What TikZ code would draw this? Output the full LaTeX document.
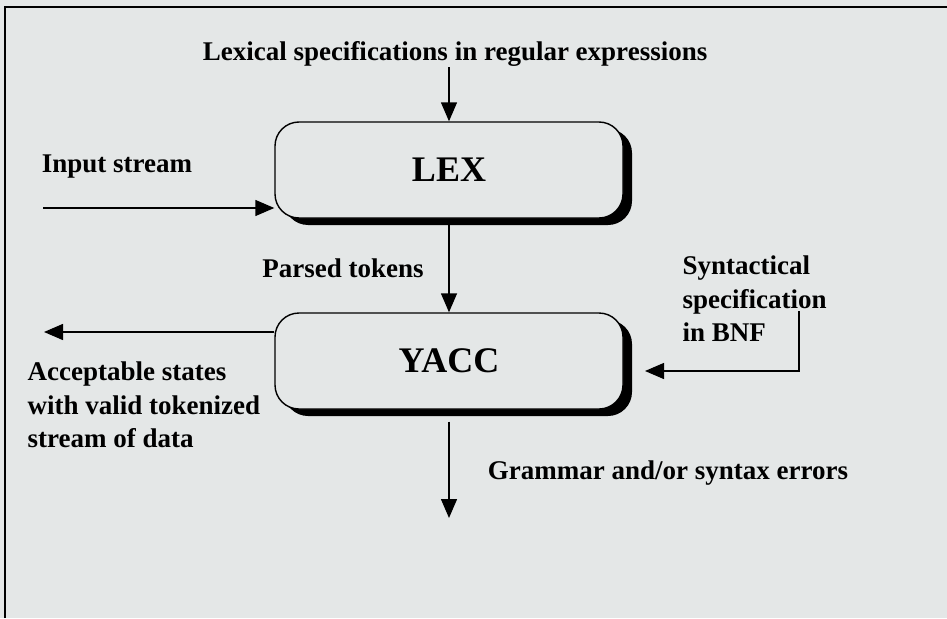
\documentclass[tikz,border=0pt]{standalone}
\usepackage{fontspec}
\setmainfont{Liberation Serif}
\usetikzlibrary{arrows.meta}
\usetikzlibrary{shadows}
\definecolor{paper}{RGB}{228,231,231}

\begin{document}
\begin{tikzpicture}[x=1pt,y=-1pt,
    lbl/.style={font=\bfseries\fontsize{27}{33.5}\selectfont, inner sep=0pt},
    stage/.style={draw, line width=1.4pt, rounded corners=24pt, fill=paper,
      minimum width=348pt, minimum height=96pt,
      font=\bfseries\fontsize{36}{40}\selectfont,
      drop shadow={shadow xshift=9pt, shadow yshift=-7pt, fill=black, opacity=1}},
    >={Triangle[length=19pt,width=16pt]}, line width=1.4pt]
    \fill[paper] (0,0) rectangle (947,618);
    \useasboundingbox (0,0) rectangle (947,618);
    \draw[line width=2pt] (5,618) -- (5,7) -- (947,7);

    \node[stage] (lex) at (449,170) {LEX};
    \node[stage] (yacc) at (449,361) {YACC};

    \node[lbl] (lexspec) at (455,54) {Lexical specifications in regular expressions};
    \node[lbl] (input) at (117,167) {Input stream};
    \node[lbl] (parsed) at (343,268) {Parsed tokens};
    \node[lbl, align=left, anchor=west] (accept) at (27,405) {Acceptable states\\ with valid tokenized\\ stream of data};
    \node[lbl, align=left, anchor=west] (synspec) at (682,299) {Syntactical\\specification\\in BNF};
    \node[lbl] (errors) at (668,473) {Grammar and/or syntax errors};

    \coordinate (instart) at (43,208);
    \coordinate (accend) at (44,332);
    \coordinate (bnftop) at (799,311);
    \coordinate (bnfend) at (645,371);
    \coordinate (errend) at (449,518);

    \draw[->] (lexspec.south -| lex.north) to (lex.north);
    \draw[->] (instart) to (instart -| lex.west);
    \draw[->] (lex.south) to (yacc.north);
    \draw[->] (accend -| yacc.west) to (accend);
    \draw[->] (bnftop) |- (bnfend);
    \draw[->, shorten <=12pt] (yacc.south) to (errend);
\end{tikzpicture}
\end{document}
